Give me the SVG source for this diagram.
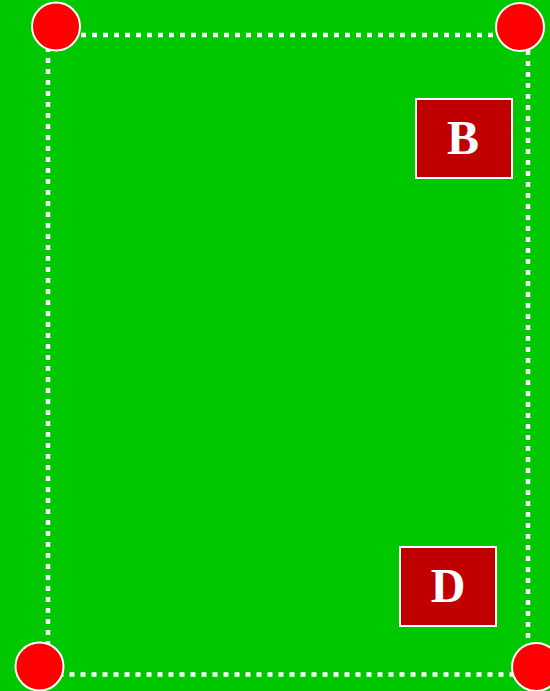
<svg xmlns="http://www.w3.org/2000/svg" width="550" height="691" viewBox="0 0 550 691">
<style>
.corner{fill:#ff0000;stroke:#ffffff;stroke-width:2}
.box{fill:#c00000;stroke:#ffffff;stroke-width:2}
.lbl{fill:#ffffff;font-family:"Liberation Serif",serif;font-weight:bold;font-size:48px;text-anchor:middle}
.edge{fill:none;stroke:#ffffff;stroke-width:4.5;stroke-dasharray:5 6}
</style>
<rect x="0" y="0" width="550" height="691" fill="#00c800"/>
<g id="connectors">
<rect class="edge" x="48" y="35" width="480" height="639.5"/>
</g>
<g id="corner-tl"><circle class="corner" cx="56" cy="26.5" r="24"/></g>
<g id="corner-tr"><circle class="corner" cx="520" cy="27" r="24"/></g>
<g id="corner-bl"><circle class="corner" cx="39.5" cy="666.5" r="24"/></g>
<g id="corner-br"><circle class="corner" cx="536" cy="667" r="24"/></g>
<g id="node-B"><rect class="box" x="416" y="99" width="96" height="79"/><text class="lbl" x="463" y="154">B</text></g>
<g id="node-D"><rect class="box" x="400" y="547" width="96" height="79"/><text class="lbl" x="448" y="602">D</text></g>
</svg>
